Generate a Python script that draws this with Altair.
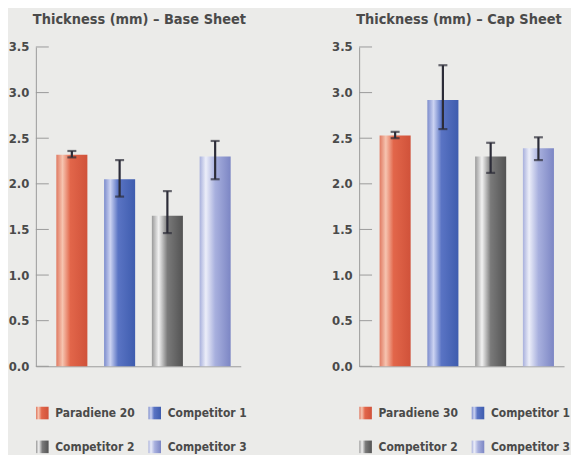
import altair as alt
import pandas as pd

# ---- data ----
base_categories = ["Paradiene 20", "Competitor 1", "Competitor 2", "Competitor 3"]
base_values = [2.32, 2.05, 1.65, 2.30]
base_low = [2.29, 1.86, 1.46, 2.05]
base_high = [2.36, 2.26, 1.92, 2.47]

cap_categories = ["Paradiene 30", "Competitor 1", "Competitor 2", "Competitor 3"]
cap_values = [2.53, 2.92, 2.30, 2.39]
cap_low = [2.50, 2.60, 2.12, 2.26]
cap_high = [2.57, 3.30, 2.45, 2.51]

y_ticks = [0.0, 0.5, 1.0, 1.5, 2.0, 2.5, 3.0, 3.5]
legend_cols = [0, 1, 0, 1]
legend_rows = [0, 0, 1, 1]

# ---- styling ----
FONT = "DejaVu Sans Condensed"
TEXT = "#4a4a4a"
AXIS = "#9a9a9a"
BG = "#ebebe9"

gradient_stops = [
    [(0.0, "#e07a62"), (0.2, "#f6c4b0"), (0.45, "#e2664a"), (1.0, "#d0523a")],
    [(0.0, "#7c8ccc"), (0.2, "#ccd3f2"), (0.45, "#5a74c4"), (1.0, "#3e5cae")],
    [(0.0, "#9a9a9a"), (0.22, "#f2f2f2"), (0.5, "#7a7a7a"), (1.0, "#535353")],
    [(0.0, "#a8b0dc"), (0.2, "#eceef9"), (0.5, "#a8b0de"), (1.0, "#7c86c4")],
]


def grad(i):
    return alt.Gradient(
        gradient="linear", x1=0, x2=1, y1=0, y2=0,
        stops=[alt.GradientStop(offset=o, color=c) for o, c in gradient_stops[i]],
    )


def panel(title, cats, vals, lo, hi):
    df = pd.DataFrame({"cat": cats, "val": vals, "lo": lo, "hi": hi, "idx": range(4)})
    x = alt.X("cat:N", sort=cats, title=None,
              scale=alt.Scale(paddingInner=0.35, paddingOuter=0.32, align=0.67),
              axis=alt.Axis(labels=False, ticks=False, domainColor=AXIS, domainWidth=1))
    y = alt.Y("val:Q", title=None,
              scale=alt.Scale(domain=[0, 3.5], nice=False),
              axis=alt.Axis(values=y_ticks, format=".1f", ticks=False, grid=False,
                            domainColor=AXIS, domainWidth=1, labelPadding=7,
                            labelFont=FONT, labelFontSize=13, labelFontWeight="bold",
                            labelColor=TEXT))
    base = alt.Chart(df)
    layers = []
    for i in range(4):
        layers.append(base.transform_filter(alt.datum.idx == i)
                      .mark_bar(color=grad(i)).encode(x=x, y=y))
    err = base.mark_rule(color="#2c2c38", strokeWidth=2.2).encode(
        x=x, y=alt.Y("lo:Q"), y2="hi:Q")
    cap_lo_m = base.mark_tick(color="#2c2c38", thickness=2.2, size=9, orient="horizontal").encode(
        x=x, y=alt.Y("lo:Q"))
    cap_hi_m = base.mark_tick(color="#2c2c38", thickness=2.2, size=9, orient="horizontal").encode(
        x=x, y=alt.Y("hi:Q"))
    ticks_df = pd.DataFrame({"t": y_ticks})
    tick_rules = alt.Chart(ticks_df).mark_rule(color=AXIS, strokeWidth=1).encode(
        y=alt.Y("t:Q"), x=alt.value(0), x2=alt.value(13))
    chart = alt.layer(*layers, err, cap_lo_m, cap_hi_m, tick_rules).properties(
        width=206, height=321,
        title=alt.TitleParams(title, anchor="start", frame="group", font=FONT, fontSize=14.5,
                              fontWeight="bold", color=TEXT, offset=14, dx=-3),
    )

    ldf = pd.DataFrame({"cat": cats, "idx": range(4), "col": legend_cols, "row": legend_rows})
    lx = alt.X("col:Q", axis=None, scale=alt.Scale(domain=[0, 1], range=[6.5, 119.5]))
    ly = alt.Y("row:Q", axis=None, scale=alt.Scale(domain=[0, 1], range=[6, 40]))
    lbase = alt.Chart(ldf)
    llayers = []
    for i in range(4):
        llayers.append(lbase.transform_filter(alt.datum.idx == i)
                       .mark_square(size=160, filled=True, opacity=1, fill=grad(i))
                       .encode(x=lx, y=ly))
    ltext = lbase.mark_text(align="left", baseline="middle", dx=13, font=FONT,
                            fontSize=12, fontWeight="bold", color=TEXT).encode(
        x=lx, y=ly, text="cat:N")
    legend = alt.layer(*llayers, ltext).properties(width=206, height=42)
    return alt.vconcat(chart, legend, spacing=33)


left = panel("Thickness (mm) \u2013 Base Sheet", base_categories, base_values, base_low, base_high)
right = panel("Thickness (mm) \u2013 Cap Sheet", cap_categories, cap_values, cap_low, cap_high)

chart = alt.hconcat(left, right, spacing=84).properties(
    padding={"left": 0, "top": 2, "right": 0, "bottom": 0},
    background=BG,
).configure_view(stroke=None)

chart.save("out.html", embed_options={"renderer": "svg", "actions": False})
